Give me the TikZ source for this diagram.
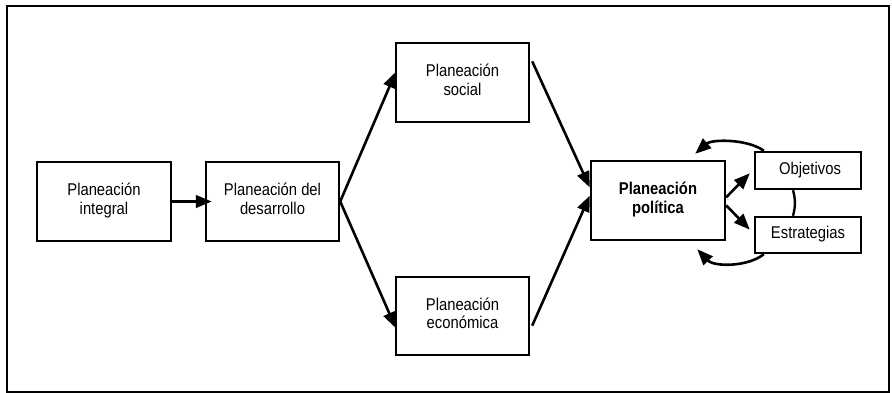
\documentclass[tikz,border=0pt]{standalone}
\usepackage{fontspec}
\usepackage{graphicx}
\setmainfont{Liberation Sans}
\usetikzlibrary{arrows.meta,calc}
\newcommand{\tx}[1]{\scalebox{1}[1.15]{\fontsize{14.8}{16}\selectfont\begin{tabular}{@{}c@{}}#1\end{tabular}}}
\newcommand{\txb}[1]{\scalebox{1}[1.15]{\fontsize{14.8}{16}\selectfont\bfseries\begin{tabular}{@{}c@{}}#1\end{tabular}}}
\begin{document}
\begin{tikzpicture}[x=1pt,y=-1pt,
  box/.style={draw, line width=2.4pt, align=center, inner sep=0pt},
  arr/.style={-{Triangle[length=16pt,width=12.5pt]}, line width=2.6pt},
  link/.style={line width=2.4pt}]
\useasboundingbox (0,0) rectangle (892,393);
\node[draw, line width=2.2pt, minimum width=882pt, minimum height=386pt,
  inner sep=0pt, anchor=north west] (frame) at (6,5) {};
\node[box, minimum width=134pt, minimum height=79pt] (integral) at (104,201.5) {\tx{Planeación\\integral}};
\node[box, minimum width=133pt, minimum height=79pt] (desarrollo) at (272.5,201.5) {\tx{Planeación del\\desarrollo}};
\node[box, minimum width=133pt, minimum height=79pt] (social) at (462.5,82.5) {\tx{Planeación\\social}};
\node[box, minimum width=133pt, minimum height=78pt] (economica) at (462.5,316) {\tx{Planeación\\económica}};
\node[box, minimum width=134pt, minimum height=79pt] (politica) at (658,200.5) {\txb{Planeación\\política}};
\node[box, minimum width=106pt, minimum height=37pt] (objetivos) at (808,170.5) {\tx{\ Objetivos}};
\node[box, minimum width=106pt, minimum height=36pt] (estrategias) at (808,235) {\tx{Estrategias}};
% connectors
\draw[arr] (integral) -- ($(desarrollo.west)+(7,0)$);
\draw[arr] (desarrollo.east) -- ($(social.north west)!0.37!(social.south west)+(1,0)$);
\draw[arr] (desarrollo.east) -- ($(economica.north west)!0.65!(economica.south west)+(1,0)$);
\draw[arr] ($(social.north east)!0.24!(social.south east)+(2,0)$) -- ($(politica.north west)!0.34!(politica.south west)$);
\draw[arr] ($(economica.north east)!0.62!(economica.south east)+(2,0)$) -- ($(politica.north west)!0.44!(politica.south west)$);
\draw[arr] ($(politica.north east)!0.46!(politica.south east)$) -- ($(objetivos.north west)!0.57!(objetivos.south west)+(-4,0)$);
\draw[arr] ($(politica.north east)!0.56!(politica.south east)$) -- ($(estrategias.north west)!0.36!(estrategias.south west)+(-4,0)$);
\coordinate (topend) at ($(politica.north east)+(-31,-6)$);
\coordinate (botend) at ($(politica.south east)+(-29,8)$);
\draw[arr] ($(objetivos.north west)+(10,0)$) .. controls (748,139) and (712,139) .. (topend);
\draw[arr] ($(estrategias.south west)+(10,0)$) .. controls (748,267) and (714,267) .. (botend);
\draw[link] ($(objetivos.south)+(-15,0)$) to[bend left=15] ($(estrategias.north)+(-15,0)$);
\end{tikzpicture}
\end{document}
